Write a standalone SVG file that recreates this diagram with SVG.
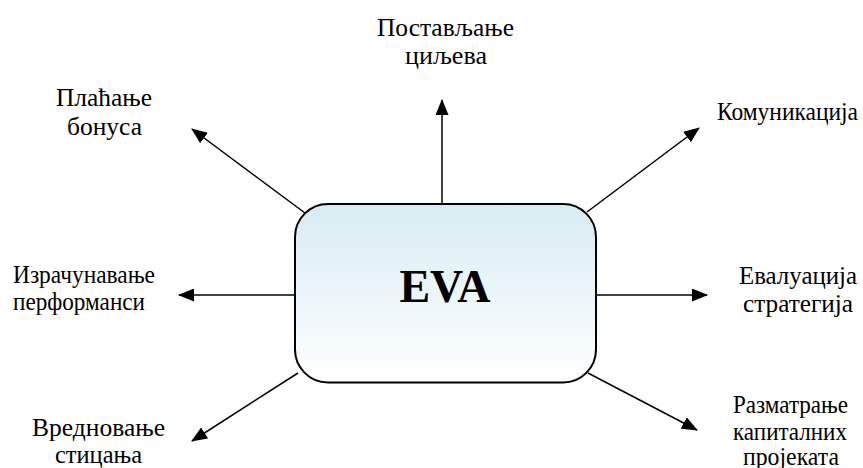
<svg xmlns="http://www.w3.org/2000/svg" width="863" height="468" viewBox="0 0 863 468">
<style>
.lbl{font-family:"Liberation Serif","Times New Roman",serif;font-size:25px;fill:#000}
.c{text-anchor:middle}
.conn line{stroke:#000;stroke-width:1.5;fill:none}
</style>
<defs>
<linearGradient id="g" x1="0" y1="0" x2="0" y2="1">
<stop offset="0" stop-color="#d8ecf3"/>
<stop offset="1" stop-color="#ffffff"/>
</linearGradient>
<marker id="ah" viewBox="0 0 16 13" refX="15" refY="6.5" markerWidth="16" markerHeight="13" markerUnits="userSpaceOnUse" orient="auto">
<path d="M0,0 L16,6.5 L0,13 Z" fill="#000"/>
</marker>
</defs>
<g class="conn" id="connectors">
<line x1="442" y1="204" x2="442" y2="100" marker-end="url(#ah)"/>
<line x1="305" y1="213" x2="192" y2="129" marker-end="url(#ah)"/>
<line x1="587" y1="212" x2="699" y2="128" marker-end="url(#ah)"/>
<line x1="295" y1="295" x2="179" y2="295" marker-end="url(#ah)"/>
<line x1="596" y1="295" x2="707" y2="295" marker-end="url(#ah)"/>
<line x1="298" y1="373" x2="192" y2="441" marker-end="url(#ah)"/>
<line x1="588" y1="373" x2="697" y2="430" marker-end="url(#ah)"/>
</g>
<g id="eva">
<rect x="295" y="204" width="301" height="178.5" rx="33" ry="33" fill="url(#g)" stroke="#000" stroke-width="2"/>
<text x="445" y="302" text-anchor="middle" font-family="Liberation Serif,'Times New Roman',serif" font-weight="bold" font-size="46">EVA</text>
</g>
<g id="n-goals"><text class="lbl c" x="445.5" y="36" textLength="137" lengthAdjust="spacingAndGlyphs">Постављање</text><text class="lbl c" x="446" y="64" textLength="82" lengthAdjust="spacingAndGlyphs">циљева</text></g>
<g id="n-bonus"><text class="lbl c" x="104" y="106" textLength="96" lengthAdjust="spacingAndGlyphs">Плаћање</text><text class="lbl c" x="104.5" y="135" textLength="75" lengthAdjust="spacingAndGlyphs">бонуса</text></g>
<g id="n-comm"><text class="lbl" x="717" y="120" textLength="141" lengthAdjust="spacingAndGlyphs">Комуникација</text></g>
<g id="n-perf"><text class="lbl" x="13" y="283" textLength="142" lengthAdjust="spacingAndGlyphs">Израчунавање</text><text class="lbl" x="13" y="310" textLength="132" lengthAdjust="spacingAndGlyphs">перформанси</text></g>
<g id="n-strat"><text class="lbl c" x="798" y="284" textLength="118" lengthAdjust="spacingAndGlyphs">Евалуација</text><text class="lbl c" x="798" y="312" textLength="110" lengthAdjust="spacingAndGlyphs">стратегија</text></g>
<g id="n-acq"><text class="lbl c" x="98.5" y="436" textLength="133" lengthAdjust="spacingAndGlyphs">Вредновање</text><text class="lbl c" x="98.5" y="463" textLength="87" lengthAdjust="spacingAndGlyphs">стицања</text></g>
<g id="n-cap"><text class="lbl c" x="790.5" y="413" textLength="115" lengthAdjust="spacingAndGlyphs">Разматрање</text><text class="lbl c" x="790" y="440" textLength="114" lengthAdjust="spacingAndGlyphs">капиталних</text><text class="lbl c" x="791" y="465" textLength="96" lengthAdjust="spacingAndGlyphs">пројеката</text></g>
</svg>
